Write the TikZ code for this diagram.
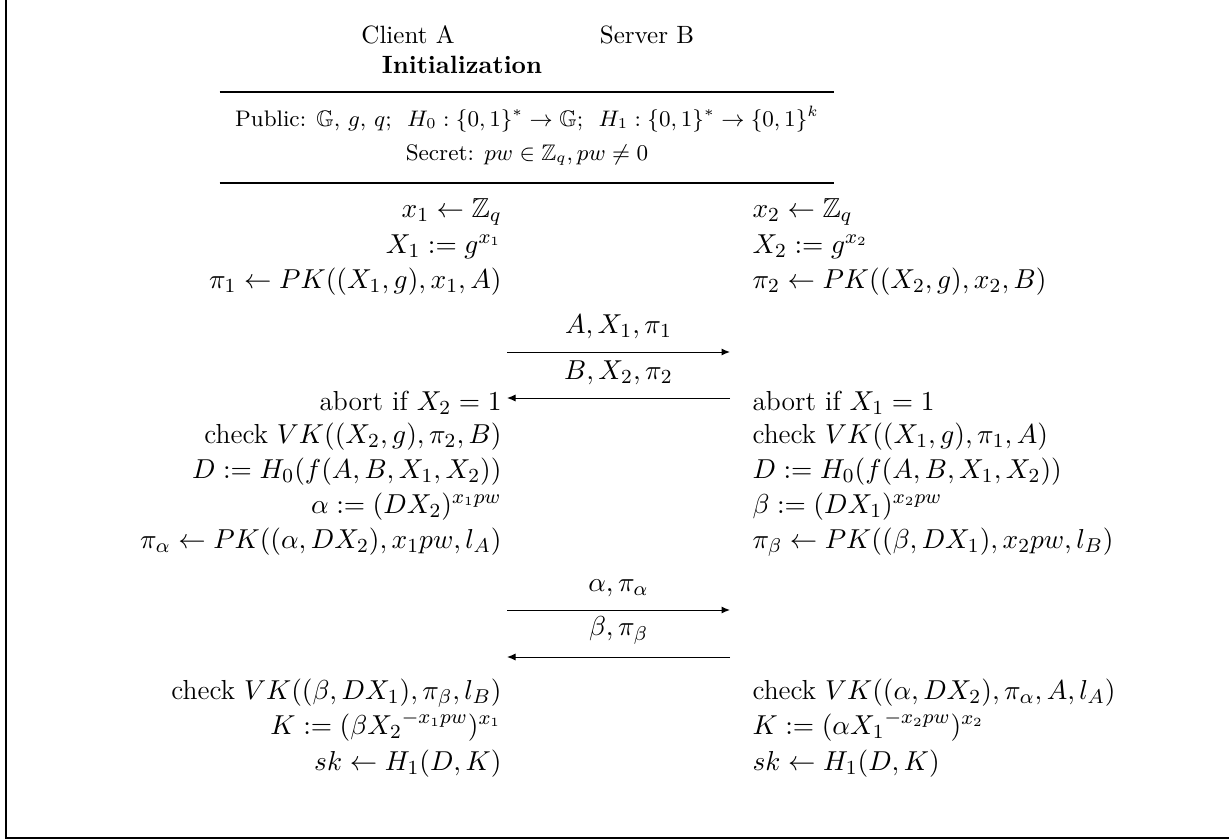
\documentclass[tikz,border=0pt]{standalone}
\usepackage{amsmath,amssymb}
\usetikzlibrary{arrows.meta}

\begin{document}
\begin{tikzpicture}[
  x=0.4pt,y=-0.4pt,
  lhs/.style={anchor=mid east,inner sep=0pt,font=\fontsize{11}{13.5}\selectfont},
  rhs/.style={anchor=mid west,inner sep=0pt,font=\fontsize{11}{13.5}\selectfont},
  lbl/.style={anchor=mid,inner sep=0pt},
  tag/.style={above=5pt,inner sep=0pt,font=\fontsize{11}{13.5}\selectfont},
  msg/.style={->,line width=0.4pt},
  rule/.style={line width=0.7pt},
  >={Latex[length=3.4pt,width=2.8pt]}
]
\useasboundingbox (0,0) rectangle (1229,840);
\draw[line width=0.8pt] (6,-2) |- (1231,838);

% header
\node[lbl] (cA) at (408,38) {Client A};
\node[lbl] (sB) at (647,38) {Server B};
\node[lbl] (init) at (462,68) {\textbf{Initialization}};
\node[lbl,inner xsep=6pt,font=\fontsize{9}{11}\selectfont] (pub) at (527,121) {Public: $\mathbb{G}$, $g$, $q$;\ \ $H_0:\{0,1\}^*\to\mathbb{G}$;\ \ $H_1:\{0,1\}^*\to\{0,1\}^k$};
\node[lbl,font=\fontsize{9}{11}\selectfont] (sec) at (527,155) {Secret: $pw\in\mathbb{Z}_q, pw\neq 0$};
\draw[rule] (pub.west |- 0,92) -- (pub.east |- 0,92);
\draw[rule] (pub.west |- 0,183) -- (pub.east |- 0,183);

% round 1
\node[lhs] (a1) at (502,212) {$x_1\leftarrow\mathbb{Z}_q$};
\node[lhs] (a2) at (502,248) {$X_1:=g^{x_1}$};
\node[lhs] (a3) at (502,283) {$\pi_1\leftarrow PK((X_1,g),x_1,A)$};
\node[rhs] (b1) at (752,212) {$x_2\leftarrow\mathbb{Z}_q$};
\node[rhs] (b2) at (752,248) {$X_2:=g^{x_2}$};
\node[rhs] (b3) at (752,283) {$\pi_2\leftarrow PK((X_2,g),x_2,B)$};

\coordinate (m1l) at (507,352);
\coordinate (m1r) at (730,352);
\coordinate (m2l) at (507,398);
\coordinate (m2r) at (730,398);
\draw[msg] (m1l) -- node[tag] (t1) {$A,X_1,\pi_1$} (m1r);
\draw[msg] (m2r) -- node[tag] (t2) {$B,X_2,\pi_2$} (m2l);

% round 2
\node[lhs] (a4) at (502,405) {abort if $X_2=1$};
\node[lhs] (a5) at (502,438) {check $VK((X_2,g),\pi_2,B)$};
\node[lhs] (a6) at (502,473) {$D:=H_0(f(A,B,X_1,X_2))$};
\node[lhs] (a7) at (502,508) {$\alpha:=(DX_2)^{x_1pw}$};
\node[lhs] (a8) at (502,543) {$\pi_\alpha\leftarrow PK((\alpha,DX_2),x_1pw,l_A)$};
\node[rhs] (b4) at (752,405) {abort if $X_1=1$};
\node[rhs] (b5) at (752,438) {check $VK((X_1,g),\pi_1,A)$};
\node[rhs] (b6) at (752,473) {$D:=H_0(f(A,B,X_1,X_2))$};
\node[rhs] (b7) at (752,508) {$\beta:=(DX_1)^{x_2pw}$};
\node[rhs] (b8) at (752,543) {$\pi_\beta\leftarrow PK((\beta,DX_1),x_2pw,l_B)$};

\coordinate (m3l) at (507,610);
\coordinate (m3r) at (730,610);
\coordinate (m4l) at (507,657);
\coordinate (m4r) at (730,657);
\draw[msg] (m3l) -- node[tag] (t3) {$\alpha,\pi_\alpha$} (m3r);
\draw[msg] (m4r) -- node[tag] (t4) {$\beta,\pi_\beta$} (m4l);

% key
\node[lhs] (a9) at (502,694) {check $VK((\beta,DX_1),\pi_\beta,l_B)$};
\node[lhs] (a10) at (502,729) {$K:=(\beta{X_2}^{-x_1pw})^{x_1}$};
\node[lhs] (a11) at (502,765) {$sk\leftarrow H_1(D,K)$};
\node[rhs] (b9) at (752,694) {check $VK((\alpha,DX_2),\pi_\alpha,A,l_A)$};
\node[rhs] (b10) at (752,729) {$K:=(\alpha{X_1}^{-x_2pw})^{x_2}$};
\node[rhs] (b11) at (752,765) {$sk\leftarrow H_1(D,K)$};
\end{tikzpicture}
\end{document}
